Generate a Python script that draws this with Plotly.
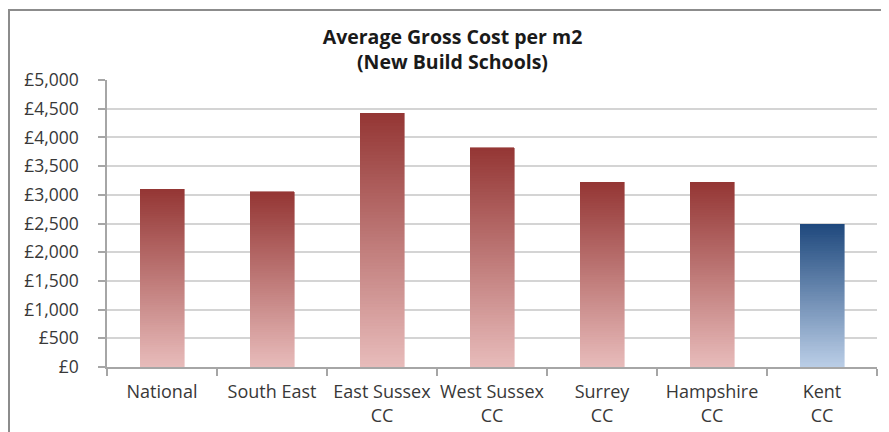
import plotly.graph_objects as go

categories = ["National", "South East", "East Sussex<br>CC", "West Sussex<br>CC",
              "Surrey<br>CC", "Hampshire<br>CC", "Kent<br>CC"]
values = [3100, 3050, 4420, 3820, 3220, 3220, 2490]
highlight = [False, False, False, False, False, False, True]
y_tickvals = [0, 500, 1000, 1500, 2000, 2500, 3000, 3500, 4000, 4500, 5000]
y_ticktext = ["£0", "£500", "£1,000", "£1,500", "£2,000", "£2,500", "£3,000",
              "£3,500", "£4,000", "£4,500", "£5,000"]

RED_TOP, RED_BOTTOM = (148, 54, 52), (232, 188, 187)
BLUE_TOP, BLUE_BOTTOM = (31, 73, 125), (187, 206, 231)
N = 80

def mix(a, b, t):
    return "rgb(%d,%d,%d)" % tuple(round(a[k] + (b[k] - a[k]) * t) for k in range(3))

fig = go.Figure()
for i in range(N):
    t = (i + 0.5) / N  # 0 bottom -> 1 top
    cols = []
    for h in highlight:
        top, bot = (BLUE_TOP, BLUE_BOTTOM) if h else (RED_TOP, RED_BOTTOM)
        cols.append(mix(bot, top, t))
    fig.add_trace(go.Bar(
        x=categories, y=[v / N for v in values],
        marker=dict(color=cols, line=dict(color=cols, width=0.6)),
        hoverinfo="skip", showlegend=False))

font_family = "'Open Sans', sans-serif"
L, R, T, B = 99, 20, 72, 73
PW, PH = 889 - L - R, 432 - T - B
fig.update_layout(
    width=889, height=432,
    barmode="stack", bargap=0.6,
    paper_bgcolor="white", plot_bgcolor="white",
    margin=dict(l=L, r=R, t=T, b=B, autoexpand=False),
    title=dict(text="<b>Average Gross Cost per m2<br>(New Build Schools)</b>",
               x=0.5, xanchor="center", y=1 - 35.5 / 432, yanchor="middle",
               font=dict(family=font_family, size=19.5, color="#1a1a1a")),
    font=dict(family=font_family, size=16, color="#383838"),
    xaxis=dict(showline=True, linecolor="#a6a6a6", linewidth=1.5,
               ticks="outside", tickson="boundaries", ticklen=7, tickcolor="#a6a6a6",
               tickwidth=1.5, showgrid=False, ticklabelstandoff=8, fixedrange=True,
               tickangle=0, automargin=False, tickfont=dict(size=18)),
    yaxis=dict(range=[0, 5000], tickvals=y_tickvals, ticktext=y_ticktext,
               showline=True, linecolor="#a6a6a6", linewidth=1.5,
               ticks="outside", ticklen=7, tickcolor="#a6a6a6", tickwidth=1.5,
               showgrid=True, gridcolor="#d4d4d4", gridwidth=1.5,
               zeroline=False, ticklabelstandoff=16, fixedrange=True,
               automargin=False, tickfont=dict(size=17.5)),
    shapes=[dict(type="rect", xref="paper", yref="paper",
                 x0=(1 - L) / PW, x1=1.05, y0=-0.4, y1=(PH + T - 2) / PH,
                 line=dict(color="#8c8c8c", width=2), layer="below")],
)

fig.write_html("out.html")
